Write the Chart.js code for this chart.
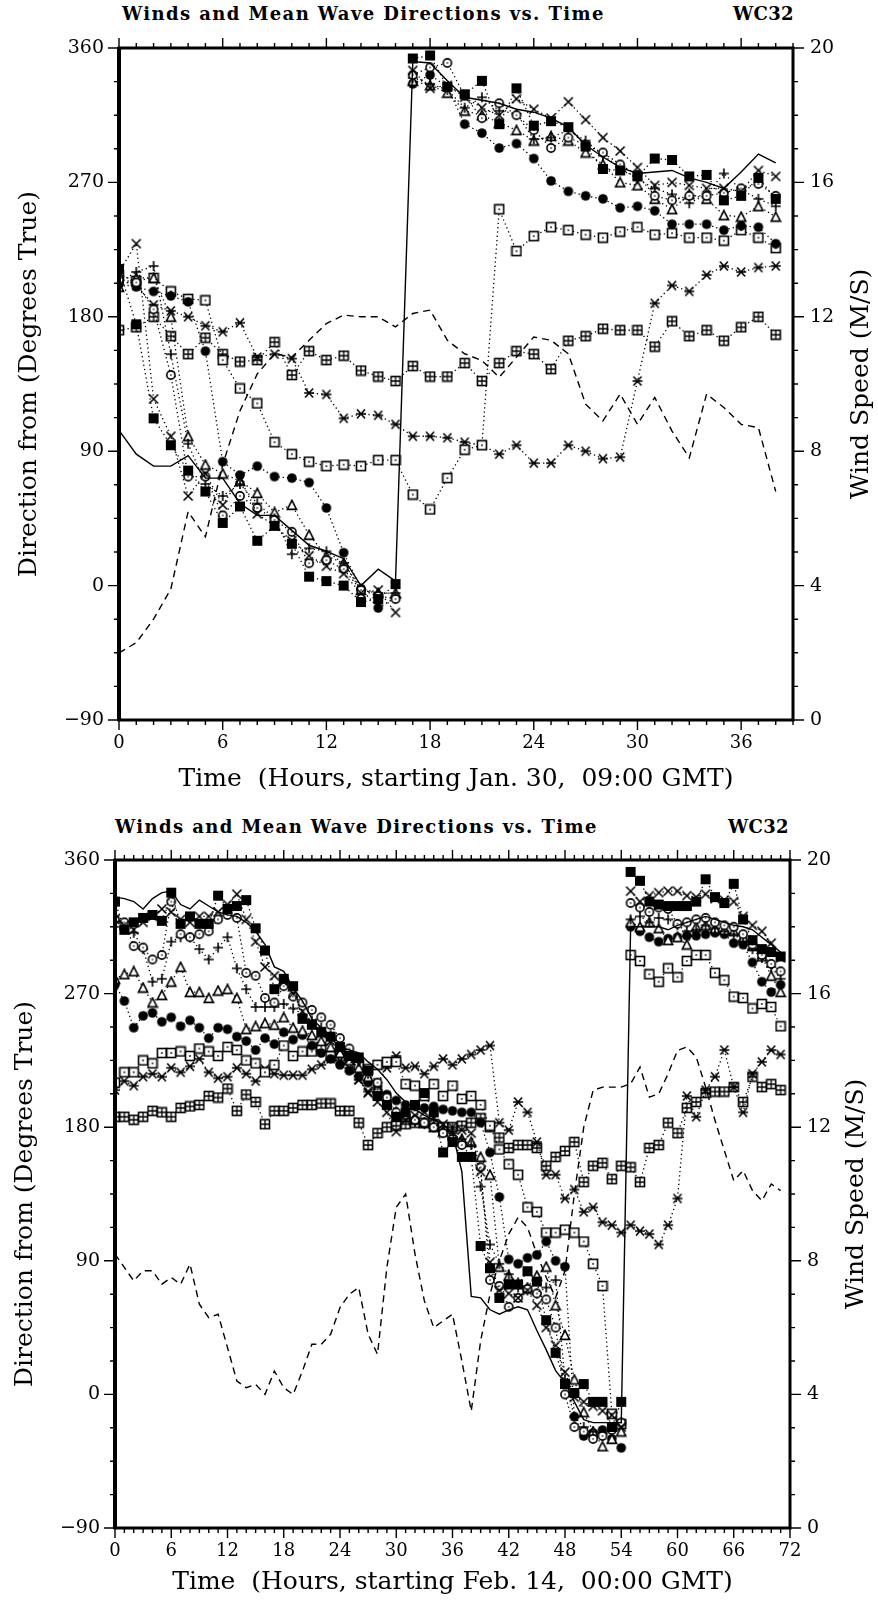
<!DOCTYPE html>
<html>
<head>
<meta charset="utf-8">
<script src="https://cdn.jsdelivr.net/npm/chart.js@4"></script>
<style>
  body { margin: 0; background: #fff; }
  #wrap { position: relative; width: 878px; height: 1600px; background: #fff; overflow: hidden; }
  canvas { position: absolute; left: 0; }
  .ttl { position: absolute; font: bold 18px 'DejaVu Serif', serif; letter-spacing: 1.4px; color: #000; white-space: nowrap; }
  .tag { position: absolute; font: bold 18px 'DejaVu Serif', serif; letter-spacing: 0.3px; color: #000; white-space: nowrap; }
  .rt { position: absolute; width: 400px; height: 30px; line-height: 30px; text-align: center;
        transform: rotate(-90deg); font: 25px 'DejaVu Serif', serif; color: #000; white-space: nowrap; }
</style>
</head>
<body>
<div id="wrap">
  <div class="ttl" style="left:122px; top:3px;">Winds and Mean Wave Directions vs. Time</div>
  <div class="tag" style="left:733px; top:3px;">WC32</div>
  <canvas id="janChart" width="878" height="800" style="top:0"></canvas>
  <div class="rt" style="left:660px; top:369px;">Wind Speed (M/S)</div>

  <div class="ttl" style="left:115px; top:816px;">Winds and Mean Wave Directions vs. Time</div>
  <div class="tag" style="left:728px; top:816px;">WC32</div>
  <canvas id="febChart" width="878" height="800" style="top:800px"></canvas>
  <div class="rt" style="left:655px; top:1179px;">Wind Speed (M/S)</div>
</div>

<script>
// --- Axis ticks ---
const dirTicks = [-90, 0, 90, 180, 270, 360];
const speedTicks = [0, 4, 8, 12, 16, 20];
const janHourTicks = [0, 6, 12, 18, 24, 30, 36];
const febHourTicks = [0, 6, 12, 18, 24, 30, 36, 42, 48, 54, 60, 66, 72];

// --- Jan. 30 run (hours 0..38) ---
const janHours = [0,1,2,3,4,5,6,7,8,9,10,11,12,13,14,15,16,17,18,19,20,21,22,23,24,25,26,27,28,29,30,31,32,33,34,35,36,37,38];

const janSqFilled   = [212,175,112,94,77,63,42,53,30,40,28,6,3,0,-11,-9,1,353,355,334,329,338,309,333,308,311,307,294,279,278,274,286,285,274,275,258,261,273,259];
const janCross      = [210,229,125,100,60,75,54,72,48,40,30,20,13,8,-5,-3,-18,345,333,335,327,320,315,326,319,313,324,312,300,291,280,268,270,268,266,266,264,278,274];
const janCircOpen   = [205,203,185,141,73,73,47,60,52,44,36,15,17,11,-3,-7,-9,342,347,350,328,313,323,315,305,293,300,295,290,282,275,261,258,261,261,263,266,269,261];
const janPlus       = [203,210,214,155,95,68,60,68,55,45,21,25,23,15,-2,-5,-5,340,336,332,320,327,318,316,299,300,305,298,288,280,272,266,262,256,262,276,265,259,254];
const janTri        = [200,206,206,180,100,81,75,70,62,49,54,34,20,15,-3,-5,-5,338,335,330,318,315,310,305,298,301,298,290,282,270,268,259,252,262,259,248,247,254,247];
const janCircFilled = [202,200,197,194,190,157,83,74,80,73,72,69,52,22,-2,-15,-8,336,342,334,309,303,293,296,286,271,264,261,259,253,254,251,242,242,242,238,241,240,229];
const janSqDot      = [208,204,206,197,192,191,151,132,122,96,88,83,80,81,80,84,84,61,51,72,91,94,252,224,234,240,238,235,233,237,240,235,236,233,233,231,238,233,226];
const janStar       = [205,201,188,184,180,174,170,176,153,155,152,129,128,112,115,114,108,100,100,99,96,94,88,94,82,82,94,90,85,86,137,189,201,197,208,214,210,213,214];
const janSqPlus     = [171,173,180,167,155,166,155,150,151,163,141,157,151,154,144,140,137,147,140,140,149,137,149,157,155,145,164,167,172,171,171,160,177,167,171,164,173,180,168];
const janWindDir    = [104,88,80,80,87,72,72,55,47,47,37,27,23,18,0,11,3,351,350,338,327,325,323,319,317,313,307,295,287,280,276,277,278,273,270,266,277,289,283];
const janWindSpeed  = [2.0,2.3,3.0,3.9,6.2,5.45,7.6,9.2,10.3,10.9,10.8,11.3,11.8,12.05,12.0,12.0,11.7,12.1,12.2,11.3,10.9,10.7,10.2,10.8,11.4,11.3,10.9,9.4,8.9,9.7,8.8,9.6,8.6,7.8,9.7,9.3,8.8,8.7,6.8];

// --- Feb. 14 run (hours 0..71) ---
const febHours = [0,1,2,3,4,5,6,7,8,9,10,11,12,13,14,15,16,17,18,19,20,21,22,23,24,25,26,27,28,29,30,31,32,33,34,35,
                  36,37,38,39,40,41,42,43,44,45,46,47,48,49,50,51,52,53,54,55,56,57,58,59,60,61,62,63,64,65,66,67,68,69,70,71];

const febSqFilled   = [332,313,318,321,323,319,338,317,322,317,317,336,327,329,333,314,299,273,280,275,253,249,244,241,234,228,227,218,201,195,187,190,195,203,190,163,
                       170,160,160,100,85,65,74,74,83,76,50,28,7,1,7,-5,-5,-22,-5,352,346,332,330,329,329,329,332,347,335,331,344,320,306,300,298,295];
const febCross      = [320,316,313,318,322,327,325,320,318,322,322,325,330,337,320,305,288,282,278,270,258,250,243,238,232,226,212,203,197,190,177,185,188,190,186,182,
                       180,178,176,150,89,70,68,65,70,60,45,33,15,-2,-5,-8,-11,-14,-22,339,332,336,338,339,339,336,335,337,334,333,332,322,316,312,304,294];
const febCircOpen   = [320,318,302,301,293,296,332,310,308,310,312,320,323,321,284,282,267,264,275,268,264,259,254,249,240,233,226,218,210,200,190,188,185,183,180,176,
                       172,168,160,153,77,73,59,65,71,68,64,45,0,-22,-25,-30,-28,-24,-19,331,328,325,328,327,317,318,320,321,318,316,315,310,303,296,290,285];
const febPlus       = [315,313,311,300,278,280,305,308,308,300,293,301,308,287,273,261,261,261,263,260,256,252,247,242,236,230,224,216,208,198,190,186,184,182,180,178,
                       176,172,168,140,101,88,81,72,70,68,72,77,10,-15,-22,-25,-26,-24,-20,320,322,318,321,320,316,312,313,316,314,312,310,305,300,294,288,280];
const febTri        = [280,283,285,274,264,269,278,288,271,271,267,272,273,267,246,248,250,249,254,247,245,242,238,234,230,225,220,214,206,197,190,187,185,183,180,177,
                       175,172,170,160,148,86,80,75,72,80,86,60,40,10,-12,-25,-35,-30,-25,318,315,318,314,306,308,303,315,316,314,313,312,308,302,295,282,271];
const febCircFilled = [276,265,247,255,257,251,254,248,252,247,240,247,246,241,238,232,240,236,244,239,242,235,230,226,222,218,214,210,206,202,198,195,194,193,194,192,
                       191,190,190,183,163,133,91,88,92,94,103,90,86,-15,-28,-26,-24,-30,-36,315,312,308,305,307,308,309,309,310,311,310,304,303,291,278,271,276];
const febSqDot      = [210,217,217,225,223,230,230,231,228,233,231,228,234,232,225,223,217,222,235,228,231,231,234,228,230,226,222,219,222,224,224,209,208,201,209,201,
                       208,199,201,195,181,165,155,148,126,123,109,109,111,109,103,88,73,-13,-20,296,292,283,278,287,281,292,296,296,284,279,268,267,260,263,261,248];
const febStar       = [205,211,208,214,216,214,220,217,221,226,217,213,214,220,216,211,219,216,215,215,215,219,222,226,225,220,212,204,210,220,228,220,221,216,221,226,
                       222,226,229,232,235,183,178,197,190,170,148,148,132,138,123,126,116,114,109,114,110,108,101,114,132,201,187,205,214,232,207,190,216,224,232,229];
const febSqPlus     = [187,187,185,187,191,190,187,193,194,195,201,200,206,191,202,197,182,191,191,193,195,195,196,196,191,191,183,168,176,180,181,182,183,183,182,180,
                       180,181,183,186,180,173,166,168,168,166,154,160,164,170,143,154,156,145,154,153,143,166,168,183,176,193,197,203,204,204,207,197,214,207,209,205];
const febWindDir    = [335,334,332,327,334,338,339,330,327,333,329,325,323,322,318,312,303,288,285,274,265,253,247,240,234,232,230,224,219,212,203,197,192,188,185,182,
                       176,150,66,65,57,54,57,59,57,43,30,16,8,-5,-17,-19,-19,-19,-19,315,315,315,315,313,316,318,320,322,320,318,316,315,313,308,303,298];
const febWindSpeed  = [8.2,7.8,7.4,7.7,7.7,7.3,7.5,7.3,7.9,6.7,6.3,6.4,5.4,4.4,4.2,4.3,4.0,4.7,4.2,4.0,4.7,5.5,5.5,5.8,6.6,7.0,7.2,5.8,5.2,7.8,9.6,10.0,8.2,6.8,6.0,6.2,
                       6.4,5.0,3.5,5.6,7.0,8.0,8.8,9.3,9.0,8.2,7.5,6.9,7.7,10.0,12.0,13.1,13.2,13.2,13.2,13.3,13.8,12.9,13.0,13.6,14.3,14.4,14.1,13.2,12.2,11.3,10.4,10.7,10.1,9.8,10.3,10.1];

// --- Marker glyphs (drawn once on small canvases) ---
function makeMarker(kind) {
    const c = document.createElement('canvas');
    c.width = 12; c.height = 12;
    const g = c.getContext('2d');
    g.strokeStyle = '#000';
    g.fillStyle = '#000';
    g.lineWidth = 1.6;
    g.beginPath();
    if (kind === 'sqFilled') {
        g.fillRect(1, 1, 10, 10);
    } else if (kind === 'circFilled') {
        g.arc(6, 6, 4.8, 0, Math.PI * 2); g.fill();
    } else if (kind === 'circOpen') {
        g.fillStyle = '#fff'; g.arc(6, 6, 4.1, 0, Math.PI * 2); g.fill(); g.stroke();
        g.fillStyle = '#000'; g.fillRect(5.3, 5.3, 1.4, 1.4);
    } else if (kind === 'tri') {
        g.fillStyle = '#fff';
        g.moveTo(6, 1.3); g.lineTo(1.4, 10.4); g.lineTo(10.6, 10.4); g.closePath(); g.fill(); g.stroke();
    } else if (kind === 'plus') {
        g.moveTo(6, 1); g.lineTo(6, 11); g.moveTo(1, 6); g.lineTo(11, 6); g.stroke();
    } else if (kind === 'cross') {
        g.moveTo(1.5, 1.5); g.lineTo(10.5, 10.5); g.moveTo(10.5, 1.5); g.lineTo(1.5, 10.5); g.stroke();
    } else if (kind === 'star') {
        g.moveTo(2, 1.5); g.lineTo(10, 10.5); g.moveTo(10, 1.5); g.lineTo(2, 10.5);
        g.moveTo(1, 6); g.lineTo(11, 6); g.stroke();
    } else if (kind === 'sqDot') {
        g.fillStyle = '#fff'; g.fillRect(1.5, 1.5, 9, 9);
        g.strokeRect(1.5, 1.5, 9, 9);
        g.fillStyle = '#000'; g.fillRect(5.2, 5.2, 1.6, 1.6);
    } else if (kind === 'sqPlus') {
        g.fillStyle = '#fff'; g.fillRect(1.5, 1.5, 9, 9);
        g.strokeRect(1.5, 1.5, 9, 9);
        g.lineWidth = 1.3;
        g.moveTo(6, 1.5); g.lineTo(6, 10.5); g.moveTo(1.5, 6); g.lineTo(10.5, 6); g.stroke();
    }
    return c;
}

const markers = {};
['sqFilled', 'cross', 'circOpen', 'plus', 'tri', 'circFilled', 'sqDot', 'star', 'sqPlus']
    .forEach(k => { markers[k] = makeMarker(k); });

// --- Helpers ---
function pts(hours, vals) {
    return hours.map((h, i) => ({ x: h, y: vals[i] }));
}

// dotted wave series; the line is not drawn across the 0/360 wrap
function waveSet(hours, vals, kind) {
    return {
        data: pts(hours, vals),
        yAxisID: 'y',
        pointStyle: markers[kind],
        pointRadius: 4,
        borderColor: '#000',
        borderWidth: 1.3,
        borderDash: [1.3, 3],
        segment: {
            borderColor: ctx => Math.abs(ctx.p1.parsed.y - ctx.p0.parsed.y) > 180 ? 'rgba(0,0,0,0)' : '#000'
        },
        fill: false,
        order: 2
    };
}

function windDirSet(hours, vals) {
    return {
        data: pts(hours, vals), yAxisID: 'y',
        borderColor: '#000', borderWidth: 1.4, pointRadius: 0, fill: false, order: 1
    };
}

function windSpeedSet(hours, vals) {
    return {
        data: pts(hours, vals), yAxisID: 'y2',
        borderColor: '#000', borderWidth: 1.4, borderDash: [7, 5], pointRadius: 0, fill: false, order: 1
    };
}

const framePlugin = {
    id: 'frame',
    afterDatasetsDraw(chart, args, opts) {
        const { ctx, chartArea: a, scales } = chart;
        const x = scales.x, y = scales.y, y2 = scales.y2;
        ctx.save();
        ctx.strokeStyle = '#000';
        ctx.lineWidth = 1.4;
        ctx.beginPath();
        for (let v = x.min; v <= x.max + 1e-6; v += opts.xMinor) {
            const px = x.getPixelForValue(v);
            const len = (v % opts.xMajor === 0) ? 10 : 5;
            ctx.moveTo(px, a.top); ctx.lineTo(px, a.top - len);
            ctx.moveTo(px, a.bottom); ctx.lineTo(px, a.bottom + len);
        }
        for (let v = y.min; v <= y.max + 1e-6; v += opts.yMinor) {
            const py = y.getPixelForValue(v);
            const len = ((v - y.min) % 90 === 0) ? 11 : 5;
            ctx.moveTo(a.left, py); ctx.lineTo(a.left - len, py);
        }
        for (let v = y2.min; v <= y2.max + 1e-6; v += opts.y2Minor) {
            const py = y2.getPixelForValue(v);
            const len = (v % 4 === 0) ? 11 : 5;
            ctx.moveTo(a.right, py); ctx.lineTo(a.right + len, py);
        }
        ctx.stroke();

        ctx.lineWidth = 3;
        ctx.strokeRect(a.left, a.top, a.right - a.left, a.bottom - a.top);
        ctx.lineWidth = 4;
        ctx.beginPath();
        ctx.moveTo(a.left, a.top - 1); ctx.lineTo(a.left, a.bottom + 1);
        ctx.stroke();
        ctx.restore();
    }
};

const serif = "'DejaVu Serif', serif";
const minus = v => String(v).replace('-', '\u2212');

function buildChart(canvasId, cfg) {
    const ctx = document.getElementById(canvasId).getContext('2d');
    return new Chart(ctx, {
        type: 'line',
        data: { datasets: cfg.datasets },
        plugins: [framePlugin],
        options: {
            responsive: false,
            animation: false,
            devicePixelRatio: 1,
            layout: { padding: { top: cfg.top, left: 0, right: 0, bottom: 0 } },
            elements: { line: { tension: 0 } },
            plugins: {
                legend: { display: false },
                tooltip: { enabled: false },
                frame: { xMinor: 1, xMajor: 6, yMinor: 22.5, y2Minor: 1 }
            },
            scales: {
                x: {
                    type: 'linear', min: 0, max: cfg.xMax,
                    afterBuildTicks: s => { s.ticks = cfg.xTicks.map(v => ({ value: v })); },
                    afterFit: s => { s.height = cfg.xAxisHeight; },
                    grid: { display: false, drawTicks: false },
                    border: { display: false },
                    ticks: { color: '#000', font: { family: serif, size: 18 }, padding: 13, maxRotation: 0, autoSkip: false },
                    title: { display: true, text: cfg.xTitle, color: '#000',
                             font: { family: serif, size: 25 }, padding: { top: 0, bottom: cfg.xTitlePad } }
                },
                y: {
                    type: 'linear', position: 'left', min: -90, max: 360,
                    afterBuildTicks: s => { s.ticks = dirTicks.map(v => ({ value: v })); },
                    afterFit: s => { s.width = cfg.left; },
                    grid: { display: false, drawTicks: false },
                    border: { display: false },
                    ticks: { color: '#000', font: { family: serif, size: 19 }, padding: 15, callback: minus },
                    title: { display: true, text: 'Direction from (Degrees True)', color: '#000',
                             font: { family: serif, size: 25 }, padding: { top: cfg.yTitlePad, bottom: 0 } }
                },
                y2: {
                    type: 'linear', position: 'right', min: 0, max: 20,
                    afterBuildTicks: s => { s.ticks = speedTicks.map(v => ({ value: v })); },
                    afterFit: s => { s.width = 878 - cfg.right; },
                    grid: { display: false, drawTicks: false },
                    border: { display: false },
                    ticks: { color: '#000', font: { family: serif, size: 19 }, padding: 17 }
                }
            }
        }
    });
}

// --- Jan. 30 chart ---
buildChart('janChart', {
    top: 48, left: 119, right: 793, xAxisHeight: 80, xMax: 39, xTicks: janHourTicks, xTitlePad: 6, yTitlePad: 14,
    xTitle: 'Time  (Hours, starting Jan. 30,  09:00 GMT)',
    datasets: [
        windDirSet(janHours, janWindDir),
        windSpeedSet(janHours, janWindSpeed),
        waveSet(janHours, janSqFilled, 'sqFilled'),
        waveSet(janHours, janCross, 'cross'),
        waveSet(janHours, janCircOpen, 'circOpen'),
        waveSet(janHours, janPlus, 'plus'),
        waveSet(janHours, janTri, 'tri'),
        waveSet(janHours, janCircFilled, 'circFilled'),
        waveSet(janHours, janSqDot, 'sqDot'),
        waveSet(janHours, janStar, 'star'),
        waveSet(janHours, janSqPlus, 'sqPlus')
    ]
});

// --- Feb. 14 chart ---
buildChart('febChart', {
    top: 60, left: 115, right: 790, xAxisHeight: 72, xMax: 72, xTicks: febHourTicks, xTitlePad: 3, yTitlePad: 10,
    xTitle: 'Time  (Hours, starting Feb. 14,  00:00 GMT)',
    datasets: [
        windDirSet(febHours, febWindDir),
        windSpeedSet(febHours, febWindSpeed),
        waveSet(febHours, febSqFilled, 'sqFilled'),
        waveSet(febHours, febCross, 'cross'),
        waveSet(febHours, febCircOpen, 'circOpen'),
        waveSet(febHours, febPlus, 'plus'),
        waveSet(febHours, febTri, 'tri'),
        waveSet(febHours, febCircFilled, 'circFilled'),
        waveSet(febHours, febSqDot, 'sqDot'),
        waveSet(febHours, febStar, 'star'),
        waveSet(febHours, febSqPlus, 'sqPlus')
    ]
});
</script>
</body>
</html>
